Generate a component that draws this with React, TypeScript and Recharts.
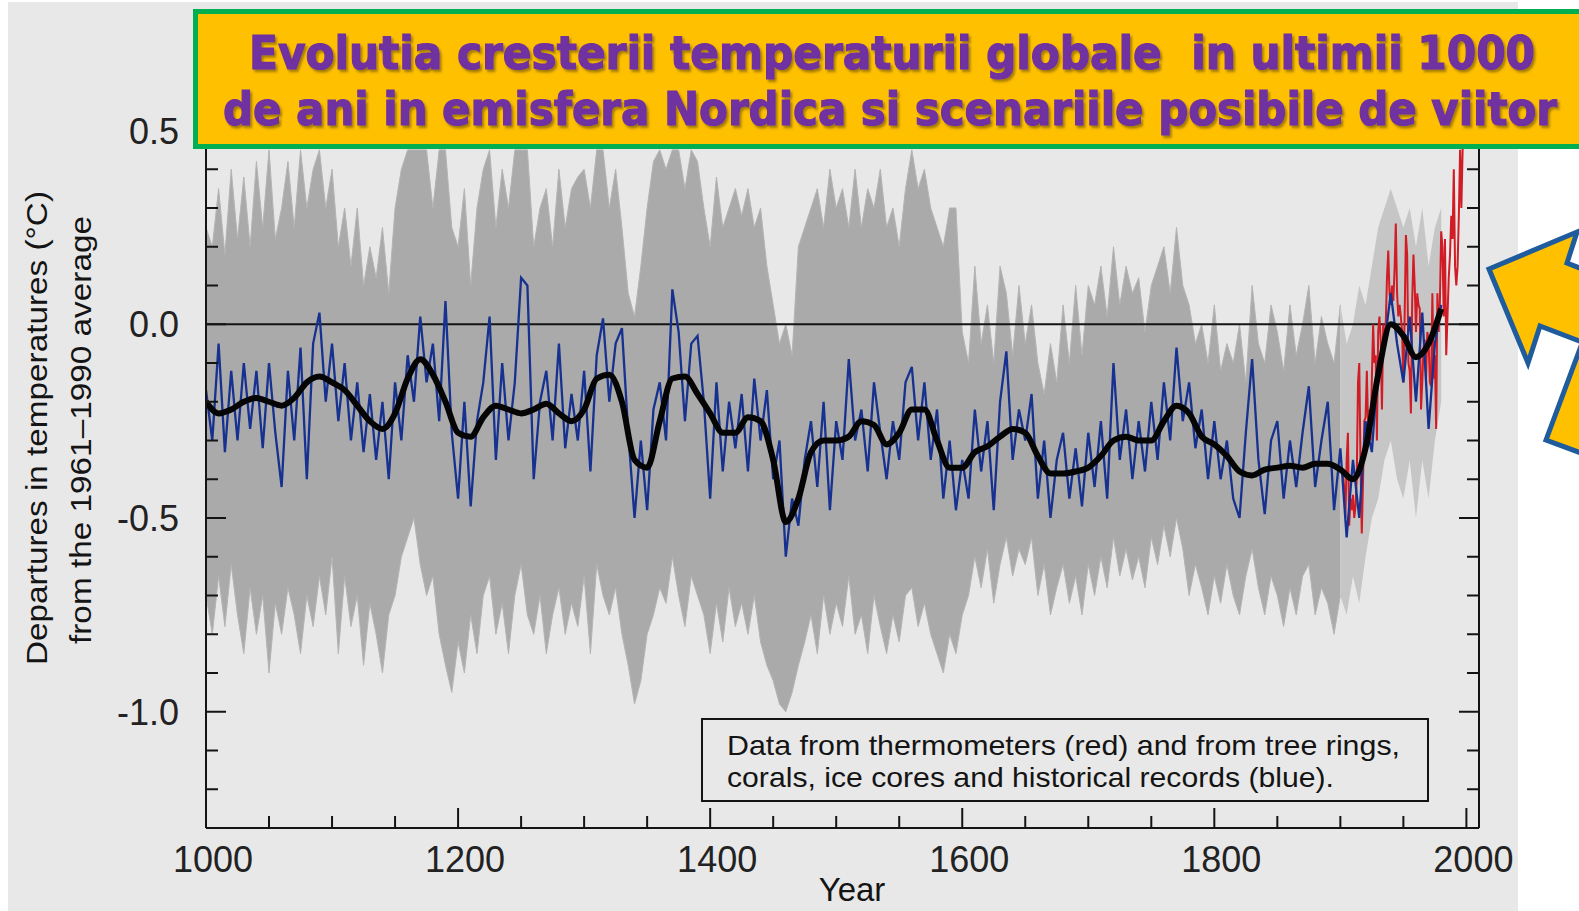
import React from "react";
import { ComposedChart, Line, Area, XAxis, YAxis, ReferenceLine } from "recharts";

// ---------- categories ----------
const YEARS_5 = Array.from({ length: 197 }, (_, i) => 1000 + i * 5); // 1000..1980
const BAND_YEARS = YEARS_5.slice(0, 181); // 1000..1900
const LATE_YEARS = YEARS_5.slice(180); // 1900..1980
const SMOOTH_YEARS = Array.from({ length: 99 }, (_, i) => 1000 + i * 10); // 1000..1980
const RED_YEARS = Array.from({ length: 98 }, (_, i) => 1902 + i); // 1902..1999
const X_TICKS = Array.from({ length: 21 }, (_, i) => 1000 + i * 50);
const X_LABELS = [1000, 1200, 1400, 1600, 1800, 2000];
const Y_TICKS = [-1.3, -1.2, -1.1, -1.0, -0.9, -0.8, -0.7, -0.6, -0.5, -0.4, -0.3, -0.2, -0.1, 0, 0.1, 0.2, 0.3, 0.4, 0.5, 0.6, 0.7];
const Y_LABELS = [-1.0, -0.5, 0, 0.5];

// ---------- series values ----------
const BLUE = [
  -0.17, -0.30, -0.05, -0.33, -0.12, -0.30, -0.10, -0.27, -0.12, -0.32,
  -0.10, -0.28, -0.42, -0.12, -0.30, -0.06, -0.40, -0.05, 0.03, -0.20,
  -0.05, -0.25, -0.10, -0.30, -0.15, -0.33, -0.18, -0.35, -0.20, -0.40,
  -0.15, -0.30, -0.08, -0.20, 0.02, -0.15, -0.05, -0.25, 0.06, -0.28,
  -0.45, -0.20, -0.47, -0.25, -0.15, 0.02, -0.35, -0.10, -0.30, -0.15,
  0.12, 0.10, -0.40, -0.20, -0.12, -0.30, -0.05, -0.32, -0.18, -0.30,
  -0.12, -0.38, -0.08, 0.015, -0.20, -0.05, -0.01, -0.28, -0.50, -0.30,
  -0.48, -0.22, -0.15, -0.30, 0.09, -0.02, -0.25, -0.05, -0.03, -0.20,
  -0.45, -0.15, -0.38, -0.20, -0.32, -0.18, -0.38, -0.14, -0.30, -0.17,
  -0.40, -0.30, -0.60, -0.45, -0.52, -0.35, -0.25, -0.42, -0.20, -0.48,
  -0.25, -0.35, -0.09, -0.30, -0.22, -0.38, -0.15, -0.28, -0.40, -0.25,
  -0.35, -0.15, -0.11, -0.30, -0.15, -0.35, -0.22, -0.45, -0.30, -0.48,
  -0.35, -0.45, -0.22, -0.38, -0.25, -0.48, -0.20, -0.07, -0.35, -0.22,
  -0.30, -0.18, -0.45, -0.30, -0.50, -0.35, -0.28, -0.45, -0.32, -0.47,
  -0.28, -0.42, -0.25, -0.45, -0.10, -0.35, -0.22, -0.40, -0.25, -0.38,
  -0.20, -0.35, -0.15, -0.30, -0.06, -0.25, -0.15, -0.32, -0.22, -0.40,
  -0.25, -0.40, -0.30, -0.45, -0.50, -0.28, -0.09, -0.35, -0.49, -0.30,
  -0.25, -0.45, -0.30, -0.42, -0.28, -0.16, -0.42, -0.30, -0.20, -0.48,
  -0.32, -0.55, -0.35, -0.50, -0.25, -0.33, -0.10, -0.05, 0.08, -0.05,
  -0.15, 0.02, -0.20, 0.03, -0.27, -0.05, 0.05,
];

const BAND_HI = [
  0.25, 0.20, 0.35, 0.18, 0.40, 0.22, 0.38, 0.20, 0.42, 0.25,
  0.45, 0.22, 0.30, 0.42, 0.25, 0.45, 0.30, 0.40, 0.45, 0.30,
  0.40, 0.20, 0.30, 0.15, 0.30, 0.10, 0.20, 0.12, 0.25, 0.08,
  0.30, 0.40, 0.45, 0.45, 0.45, 0.45, 0.30, 0.45, 0.45, 0.25,
  0.20, 0.35, 0.10, 0.30, 0.40, 0.45, 0.25, 0.40, 0.30, 0.45,
  0.45, 0.45, 0.20, 0.30, 0.35, 0.20, 0.40, 0.25, 0.35, 0.38,
  0.40, 0.30, 0.45, 0.45, 0.30, 0.40, 0.25, 0.08, 0.02, 0.15,
  0.30, 0.42, 0.45, 0.40, 0.45, 0.45, 0.35, 0.45, 0.42, 0.30,
  0.20, 0.38, 0.25, 0.30, 0.35, 0.28, 0.35, 0.25, 0.30, 0.15,
  0.05, -0.05, 0.00, -0.08, 0.20, 0.25, 0.30, 0.35, 0.25, 0.40,
  0.30, 0.35, 0.25, 0.40, 0.25, 0.35, 0.30, 0.40, 0.25, 0.30,
  0.20, 0.35, 0.45, 0.35, 0.40, 0.30, 0.25, 0.20, 0.30, 0.30,
  -0.02, -0.10, 0.15, -0.05, 0.05, -0.10, 0.15, 0.08, -0.08, 0.10,
  -0.05, 0.05, -0.10, -0.18, -0.05, -0.15, 0.05, -0.10, 0.10, -0.08,
  0.10, 0.05, 0.15, 0.02, 0.20, 0.05, 0.15, 0.08, 0.12, -0.02,
  0.10, 0.15, 0.20, 0.08, 0.25, 0.10, 0.05, -0.05, 0.00, -0.10,
  0.05, -0.12, -0.05, -0.10, 0.00, -0.15, 0.10, -0.05, -0.10, 0.05,
  -0.02, -0.12, 0.05, -0.08, 0.00, 0.10, -0.10, 0.02, -0.05, -0.10,
  0.05,
];

const BAND_LO = [
  -0.70, -0.80, -0.65, -0.78, -0.62, -0.75, -0.85, -0.68, -0.80, -0.70,
  -0.90, -0.72, -0.80, -0.68, -0.75, -0.85, -0.70, -0.78, -0.65, -0.75,
  -0.60, -0.85, -0.65, -0.78, -0.70, -0.88, -0.72, -0.80, -0.90, -0.75,
  -0.70, -0.60, -0.55, -0.50, -0.62, -0.70, -0.65, -0.80, -0.88, -0.95,
  -0.82, -0.90, -0.75, -0.85, -0.70, -0.65, -0.80, -0.72, -0.85, -0.70,
  -0.62, -0.75, -0.80, -0.70, -0.85, -0.75, -0.68, -0.80, -0.72, -0.78,
  -0.65, -0.85, -0.62, -0.70, -0.75, -0.68, -0.80, -0.88, -0.98, -0.92,
  -0.80, -0.75, -0.68, -0.72, -0.60, -0.70, -0.78, -0.65, -0.70, -0.75,
  -0.85, -0.72, -0.82, -0.68, -0.78, -0.72, -0.80, -0.70, -0.82, -0.88,
  -0.92, -0.98, -1.00, -0.95, -0.88, -0.82, -0.75, -0.85, -0.70, -0.80,
  -0.72, -0.78, -0.65, -0.80, -0.75, -0.85, -0.70, -0.78, -0.85, -0.75,
  -0.82, -0.70, -0.68, -0.78, -0.72, -0.80, -0.85, -0.90, -0.80, -0.85,
  -0.75, -0.70, -0.60, -0.68, -0.58, -0.72, -0.62, -0.55, -0.65, -0.58,
  -0.62, -0.55, -0.70, -0.62, -0.75, -0.68, -0.62, -0.72, -0.65, -0.75,
  -0.62, -0.70, -0.60, -0.68, -0.55, -0.65, -0.58, -0.66, -0.60, -0.68,
  -0.55, -0.62, -0.52, -0.60, -0.50, -0.58, -0.70, -0.62, -0.68, -0.75,
  -0.65, -0.72, -0.62, -0.70, -0.75, -0.65, -0.58, -0.68, -0.75, -0.65,
  -0.70, -0.78, -0.68, -0.75, -0.65, -0.62, -0.75, -0.68, -0.72, -0.80,
  -0.70,
];

const LATE_HI = [0.05, -0.05, 0.0, 0.10, 0.05, 0.15, 0.25, 0.30, 0.35, 0.30, 0.25, 0.30, 0.20, 0.30, 0.15, 0.25, 0.30];
const LATE_LO = [-0.70, -0.75, -0.65, -0.72, -0.60, -0.50, -0.45, -0.35, -0.30, -0.40, -0.45, -0.35, -0.50, -0.35, -0.45, -0.30, -0.20];

const SMOOTH = [
  -0.20, -0.23, -0.22, -0.20, -0.19, -0.20, -0.21, -0.19, -0.15, -0.135,
  -0.15, -0.17, -0.21, -0.25, -0.27, -0.23, -0.14, -0.09, -0.13, -0.20,
  -0.28, -0.29, -0.24, -0.21, -0.22, -0.23, -0.22, -0.205, -0.23, -0.25,
  -0.22, -0.14, -0.13, -0.20, -0.35, -0.37, -0.25, -0.14, -0.135, -0.18,
  -0.23, -0.28, -0.28, -0.24, -0.25, -0.35, -0.51, -0.45, -0.33, -0.30,
  -0.30, -0.29, -0.25, -0.26, -0.31, -0.28, -0.22, -0.22, -0.30, -0.37,
  -0.37, -0.33, -0.315, -0.29, -0.27, -0.28, -0.34, -0.385, -0.385, -0.38,
  -0.37, -0.34, -0.30, -0.29, -0.30, -0.30, -0.25, -0.21, -0.23, -0.29,
  -0.31, -0.34, -0.38, -0.39, -0.375, -0.37, -0.365, -0.37, -0.36, -0.36,
  -0.375, -0.40, -0.32, -0.13, 0.0, -0.03, -0.085, -0.05, 0.04,
];

const RED = [
  -0.38, -0.42, -0.50, -0.35, -0.28, -0.52, -0.45, -0.48, -0.44, -0.50,
  -0.47, -0.40, -0.15, -0.10, -0.36, -0.54, -0.40, -0.25, -0.24, -0.12,
  -0.26, -0.22, -0.30, -0.14, 0.00, -0.10, -0.08, -0.30, -0.02, 0.02,
  -0.04, -0.22, 0.00, -0.06, 0.00, 0.12, 0.19, 0.08, 0.05, 0.10,
  0.06, 0.14, 0.26, 0.08, 0.02, 0.05, 0.02, -0.02, -0.15, 0.02,
  0.23, 0.18, -0.10, -0.12, -0.23, 0.06, 0.18, 0.10, -0.02, 0.08,
  0.05, 0.04, -0.22, -0.15, -0.06, -0.04, -0.14, -0.02, -0.04, -0.15,
  -0.16, 0.08, -0.14, -0.08, -0.27, 0.08, -0.02, 0.06, 0.24, 0.20,
  0.02, 0.22, -0.08, 0.02, 0.12, 0.18, 0.28, 0.22, 0.40, 0.15,
  0.10, 0.15, 0.28, 0.45, 0.30, 0.45, 0.65, 0.50,
];

const TITLE_LINES = [
  "Evolutia cresterii temperaturii globale  in ultimii 1000",
  "de ani in emisfera Nordica si scenariile posibile de viitor",
];
const LEGEND_LINES = [
  "Data from thermometers (red) and from tree rings,",
  "corals, ice cores and historical records (blue).",
];
const Y_TITLE = ["Departures in temperatures (\u00B0C)", "from the 1961\u20131990 average"];
const X_TITLE = "Year";

// ---------- derived tables for the library ----------
const blueData = YEARS_5.map((year, i) => ({ year, v: BLUE[i] }));
const bandData = BAND_YEARS.map((year, i) => ({ year, r: [BAND_LO[i], BAND_HI[i]] }));
const lateData = LATE_YEARS.map((year, i) => ({ year, r: [LATE_LO[i], LATE_HI[i]] }));
const smoothData = SMOOTH_YEARS.map((year, i) => ({ year, v: SMOOTH[i] }));
const redData = RED_YEARS.map((year, i) => ({ year, v: RED[i] }));

const AXIS_FONT = "'Liberation Sans', Arial, Helvetica, sans-serif";
const TITLE_FONT = "'DejaVu Sans Condensed', 'DejaVu Sans', Verdana, sans-serif";
const INK = "#141414";

const LeftTick = (p: any) => {
  const { x, y, payload } = p;
  const v = payload.value;
  const major = Y_LABELS.includes(v);
  return (
    <g>
      <line x1={x} y1={y} x2={x + (major ? 20 : 12)} y2={y} stroke={INK} strokeWidth={2} />
      {major && (
        <text x={x - 27} y={y} dy={13} textAnchor="end" fontSize={36} fontFamily={AXIS_FONT} fill="#222">
          {v.toFixed(1)}
        </text>
      )}
    </g>
  );
};

const RightTick = (p: any) => {
  const { x, y, payload } = p;
  const major = Y_LABELS.includes(payload.value);
  return <line x1={x} y1={y} x2={x - (major ? 20 : 12)} y2={y} stroke={INK} strokeWidth={2} />;
};

const BottomTick = (p: any) => {
  const { x, y, payload } = p;
  const v = payload.value;
  const major = X_LABELS.includes(v);
  return (
    <g>
      <line x1={x} y1={y} x2={x} y2={y - (major ? 20 : 12)} stroke={INK} strokeWidth={2} />
      {major && (
        <text x={x + 7} y={y + 44} textAnchor="middle" fontSize={36} fontFamily={AXIS_FONT} fill="#222">
          {v}
        </text>
      )}
    </g>
  );
};

export default function App() {
  return (
    <div style={{ position: "absolute", left: 0, top: 0, width: 1579, height: 911, background: "#ffffff", overflow: "hidden" }}>
      <div style={{ position: "absolute", left: 8, top: 2, width: 1510, height: 909, background: "#e8e8e8" }} />
      <div style={{ position: "absolute", left: 0, top: 0 }}>
        <ComposedChart width={1579} height={911} margin={{ top: 53, right: 80, bottom: 23, left: 56 }}>
          <XAxis
            type="number"
            dataKey="year"
            domain={[1000, 2010]}
            ticks={X_TICKS}
            interval={0}
            allowDataOverflow
            height={60}
            tickSize={0}
            tickMargin={0}
            tick={<BottomTick />}
            axisLine={{ stroke: INK, strokeWidth: 2 }}
            tickLine={false}
          />
          <YAxis
            yAxisId="l"
            type="number"
            domain={[-1.3, 0.7]}
            ticks={Y_TICKS}
            interval={0}
            allowDataOverflow
            width={150}
            tickSize={0}
            tickMargin={0}
            tick={<LeftTick />}
            axisLine={{ stroke: INK, strokeWidth: 2 }}
            tickLine={false}
          />
          <YAxis
            yAxisId="r"
            orientation="right"
            type="number"
            domain={[-1.3, 0.7]}
            ticks={Y_TICKS}
            interval={0}
            allowDataOverflow
            width={20}
            tickSize={0}
            tickMargin={0}
            tick={<RightTick />}
            axisLine={{ stroke: INK, strokeWidth: 2 }}
            tickLine={false}
          />
          <Area yAxisId="l" data={bandData} dataKey="r" type="linear" stroke="#b4b4b4" strokeWidth={1} fill="#aaaaaa" fillOpacity={1} isAnimationActive={false} />
          <Area yAxisId="l" data={lateData} dataKey="r" type="linear" stroke="none" fill="#c6c6c6" fillOpacity={1} isAnimationActive={false} />
          <ReferenceLine yAxisId="l" y={0} stroke={INK} strokeWidth={2} />
          <Line yAxisId="l" data={redData} dataKey="v" type="linear" stroke="#d01c24" strokeWidth={2} dot={false} isAnimationActive={false} />
          <Line yAxisId="l" data={blueData} dataKey="v" type="linear" stroke="#16318f" strokeWidth={2.3} dot={false} isAnimationActive={false} />
          <Line yAxisId="l" data={smoothData} dataKey="v" type="monotone" stroke="#050505" strokeWidth={6} dot={false} isAnimationActive={false} />
        </ComposedChart>
      </div>
      <svg width={1579} height={911} style={{ position: "absolute", left: 0, top: 0, pointerEvents: "none" }}>
        <defs>
          <filter id="titleShadow" x="-5%" y="-30%" width="110%" height="160%">
            <feDropShadow dx="2" dy="2.5" stdDeviation="0.8" floodColor="#5a4400" floodOpacity="0.55" />
          </filter>
        </defs>
        {/* legend box */}
        <rect x={702} y={719} width={726} height={82} fill="none" stroke={INK} strokeWidth={2} />
        <text x={727} y={755} fontSize={28} fontFamily={AXIS_FONT} fill={INK} textLength={673} lengthAdjust="spacingAndGlyphs">
          {LEGEND_LINES[0]}
        </text>
        <text x={727} y={787} fontSize={28} fontFamily={AXIS_FONT} fill={INK} textLength={607} lengthAdjust="spacingAndGlyphs">
          {LEGEND_LINES[1]}
        </text>
        {/* axis titles */}
        <text transform="translate(47,428) rotate(-90)" textAnchor="middle" fontSize={30} fontFamily={AXIS_FONT} fill={INK} textLength={474} lengthAdjust="spacingAndGlyphs">
          {Y_TITLE[0]}
        </text>
        <text transform="translate(91,430) rotate(-90)" textAnchor="middle" fontSize={30} fontFamily={AXIS_FONT} fill={INK} textLength={428} lengthAdjust="spacingAndGlyphs">
          {Y_TITLE[1]}
        </text>
        <text x={852} y={901} textAnchor="middle" fontSize={33} fontFamily={AXIS_FONT} fill={INK}>
          {X_TITLE}
        </text>
        {/* title box */}
        <rect x={195.5} y={11.5} width={1420} height={135} fill="#FFC000" stroke="#00B050" strokeWidth={5} />
        {TITLE_LINES.map((t, i) => {
          const x = i === 0 ? 249 : 223;
          const len = i === 0 ? 1286 : 1334;
          const y = i === 0 ? 69 : 125;
          return (
            <text
              key={i}
              x={x}
              y={y}
              fontSize={47}
              fontWeight="bold"
              fontFamily={TITLE_FONT}
              fill="#7030A0"
              stroke="#7030A0"
              strokeWidth={1.1}
              textLength={len}
              lengthAdjust="spacingAndGlyphs"
              xmlSpace="preserve"
              filter="url(#titleShadow)"
            >
              {t}
            </text>
          );
        })}
        {/* arrow */}
        <polygon points="1546,440 1584,338 1600,344 1600,460" fill="#FFC000" stroke="#1F5C9E" strokeWidth={5} strokeLinejoin="miter" />
        <polygon points="1489,269 1577,232 1567,263 1590,272 1590,345 1540,326 1528,363" fill="#FFC000" stroke="#1F5C9E" strokeWidth={5} strokeLinejoin="miter" />
      </svg>
    </div>
  );
}
